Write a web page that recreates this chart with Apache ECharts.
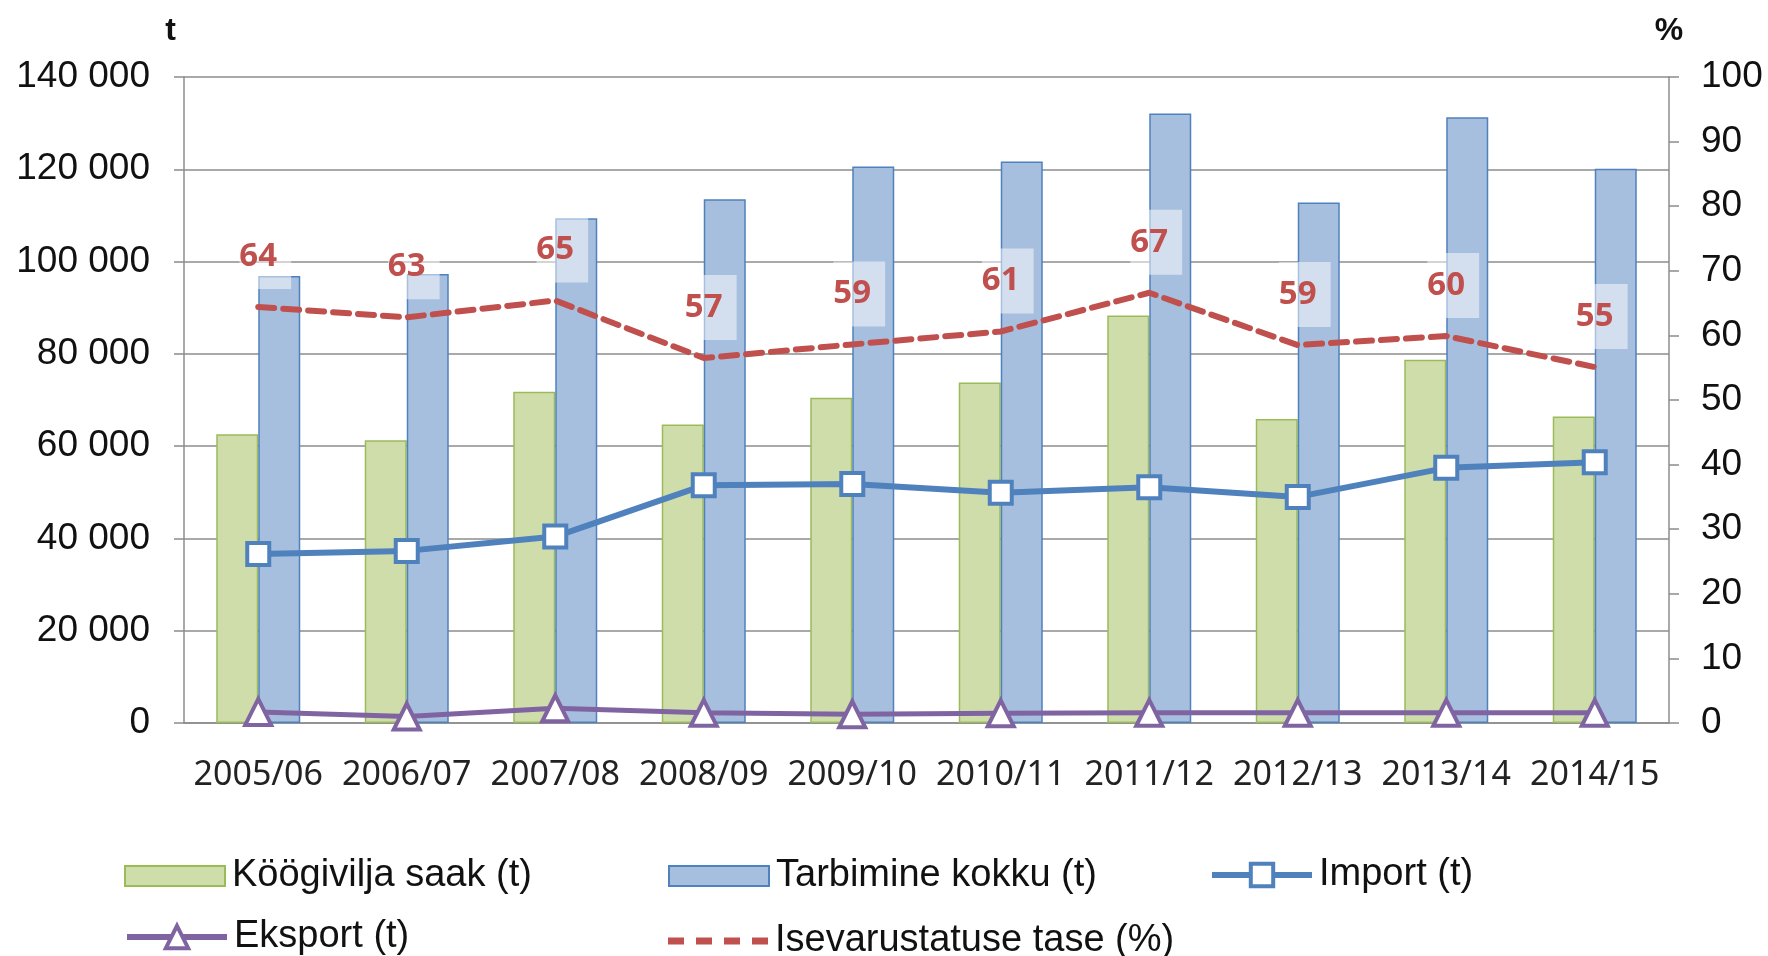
<!DOCTYPE html>
<html>
<head>
<meta charset="utf-8">
<script src="https://cdn.jsdelivr.net/npm/echarts@6/dist/echarts.min.js"></script>
<style>
  html, body { margin: 0; padding: 0; background: #fff; }
  #chart { width: 1768px; height: 956px; }
</style>
</head>
<body>
<div id="chart"></div>
<script>
var categories = ['2005/06', '2006/07', '2007/08', '2008/09', '2009/10', '2010/11', '2011/12', '2012/13', '2013/14', '2014/15'];
var saak = [62600, 61300, 71800, 64700, 70500, 73800, 88300, 65900, 78700, 66400];
var tarbimine = [96900, 97300, 109400, 113500, 120600, 121700, 132100, 112800, 131300, 120100];
var importT = [36600, 37300, 40400, 51500, 51800, 49900, 51100, 49000, 55300, 56500];
var eksport = [2400, 1400, 3200, 2200, 1900, 2100, 2200, 2200, 2200, 2200];
var isevarustatus = [64.4, 62.8, 65.4, 56.5, 58.6, 60.6, 66.6, 58.5, 59.9, 55.1];

var names = ['Köögivilja saak (t)', 'Tarbimine kokku (t)', 'Import (t)', 'Eksport (t)', 'Isevarustatuse tase (%)'];

var axisGray = '#8c8c8c';
var font = '"Liberation Sans", Arial, sans-serif';

function fmtThousands(v) {
    return String(v).replace(/\B(?=(\d{3})+(?!\d))/g, ' ');
}

// one legend per item so the two rows line up like the original
function legendAt(item, left, top, h) {
    return {
        data: [item],
        left: left,
        top: top,
        padding: 0,
        itemWidth: 100,
        itemHeight: h || 20,
        textStyle: { fontFamily: font, fontSize: 38, color: '#111', padding: [0, 0, 0, 2] }
    };
}

// four short dashes for the dashed-line legend key
var dashIcon = 'path://M0,0h16v7h-16z M28,0h16v7h-16z M56,0h16v7h-16z M84,0h16v7h-16z';

var chart = echarts.init(document.getElementById('chart'));
var option = {
    animation: false,
    backgroundColor: '#fff',
    grid: { left: 184, right: 99, top: 77, bottom: 233 },
    legend: [
        legendAt({ name: names[0], icon: 'rect' }, 124, 857),
        legendAt({ name: names[1], icon: 'rect' }, 668, 857),
        legendAt({ name: names[2], itemStyle: { borderWidth: 4 }, lineStyle: { width: 6 } }, 1209, 856, 28),
        legendAt({ name: names[3], itemStyle: { borderWidth: 4 }, lineStyle: { width: 6 } }, 124, 918, 28),
        legendAt({ name: names[4], icon: dashIcon, itemStyle: { color: '#c0504d' } }, 668, 922, 7)
    ],
    xAxis: {
        type: 'category',
        data: categories,
        axisLine: { lineStyle: { color: axisGray, width: 1.5 } },
        axisTick: { length: 12, lineStyle: { color: axisGray, width: 1.5 } },
        axisLabel: { interval: 0, fontFamily: '"Noto Sans", sans-serif', fontSize: 34, color: '#222', margin: 35 }
    },
    yAxis: [
        {
            type: 'value',
            min: 0,
            max: 140000,
            interval: 20000,
            name: 't',
            nameLocation: 'end',
            nameGap: 30,
            nameTextStyle: { fontFamily: font, fontSize: 32, fontWeight: 'bold', color: '#111', align: 'right', padding: [0, 8, 0, 0] },
            axisLine: { show: true, lineStyle: { color: axisGray, width: 1.5 } },
            axisTick: { show: true, length: 10, lineStyle: { color: axisGray, width: 1.5 } },
            splitLine: { lineStyle: { color: axisGray, width: 1.5 } },
            axisLabel: { fontFamily: font, fontSize: 37, color: '#111', margin: 34, formatter: fmtThousands }
        },
        {
            type: 'value',
            min: 0,
            max: 100,
            interval: 10,
            name: '%',
            nameLocation: 'end',
            nameGap: 30,
            nameTextStyle: { fontFamily: font, fontSize: 32, fontWeight: 'bold', color: '#111', align: 'center' },
            axisLine: { show: true, lineStyle: { color: axisGray, width: 1.5 } },
            axisTick: { show: true, length: 10, lineStyle: { color: axisGray, width: 1.5 } },
            splitLine: { show: false },
            axisLabel: { fontFamily: font, fontSize: 37, color: '#111', margin: 32 }
        }
    ],
    series: [
        {
            name: names[0],
            type: 'bar',
            data: saak,
            barWidth: 42,
            barGap: '0%',
            itemStyle: { color: '#cfddab', borderColor: '#9bbb59', borderWidth: 1.5 }
        },
        {
            name: names[1],
            type: 'bar',
            data: tarbimine,
            barWidth: 42,
            barGap: '0%',
            itemStyle: { color: '#a7bfde', borderColor: '#4f81bd', borderWidth: 1.5 }
        },
        {
            name: names[2],
            type: 'line',
            data: importT,
            z: 4,
            symbol: 'rect',
            symbolSize: 22,
            lineStyle: { color: '#4f81bd', width: 6 },
            itemStyle: { color: '#fff', borderColor: '#4f81bd', borderWidth: 4 }
        },
        {
            name: names[3],
            type: 'line',
            data: eksport,
            z: 4,
            symbol: 'triangle',
            symbolSize: 26,
            lineStyle: { color: '#8064a2', width: 5 },
            itemStyle: { color: '#fff', borderColor: '#8064a2', borderWidth: 4 }
        },
        {
            name: names[4],
            type: 'line',
            yAxisIndex: 1,
            data: isevarustatus,
            z: 3,
            symbol: 'circle',
            symbolSize: 0,
            lineStyle: { color: '#c0504d', width: 6, type: [16, 9], cap: 'round' },
            itemStyle: { color: '#c0504d' },
            label: {
                show: true,
                position: 'top',
                distance: 18,
                offset: [7, 0],
                fontFamily: '"Noto Sans", sans-serif',
                fontSize: 33,
                fontWeight: 'bold',
                color: '#c0504d',
                lineHeight: 33,
                backgroundColor: 'rgba(255,255,255,0.5)',
                padding: [16, 14, 16, 0],
                formatter: function (p) { return Math.round(p.value); }
            }
        }
    ]
};
chart.setOption(option);
</script>
</body>
</html>
